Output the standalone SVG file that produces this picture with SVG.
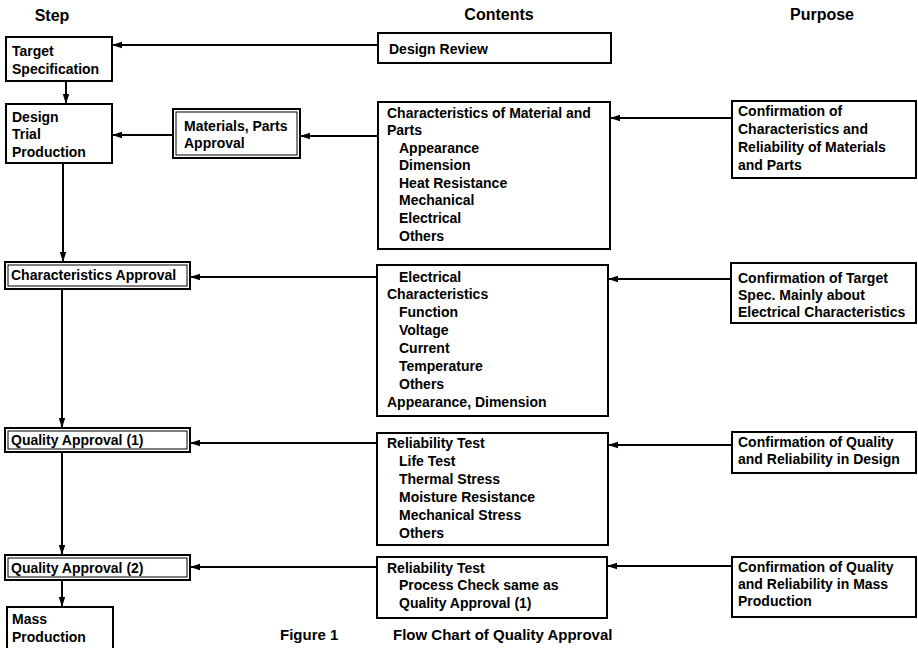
<svg xmlns="http://www.w3.org/2000/svg" width="918" height="648" viewBox="0 0 918 648">
<style>
text{font-family:"Liberation Sans",Arial,sans-serif;font-weight:bold;font-size:14px;fill:#000}
.h{font-size:16px}
.cap{font-size:15px}
.box{fill:#fff;stroke:#000;stroke-width:2}
.in{fill:none;stroke:#000;stroke-width:1}
.c{fill:none;stroke:#000;stroke-width:2}
</style>
<defs>
<marker id="ah" markerWidth="10" markerHeight="8" refX="9" refY="4" orient="auto" markerUnits="userSpaceOnUse">
<path d="M0,0.8 L10,4 L0,7.2 Z" fill="#000"/>
</marker>
</defs>
<rect width="918" height="648" fill="#fff"/>
<g id="headers">
<text class="h" x="52" y="21" text-anchor="middle">Step</text>
<text class="h" x="499" y="20" text-anchor="middle">Contents</text>
<text class="h" x="822" y="20" text-anchor="middle">Purpose</text>
</g>
<g id="connectors">
<line class="c" x1="378" y1="45" x2="113" y2="45" marker-end="url(#ah)"/>
<line class="c" x1="66" y1="81" x2="66" y2="103" marker-end="url(#ah)"/>
<line class="c" x1="173" y1="135" x2="113" y2="135" marker-end="url(#ah)"/>
<line class="c" x1="378" y1="136" x2="301" y2="136" marker-end="url(#ah)"/>
<line class="c" x1="732" y1="118" x2="611" y2="118" marker-end="url(#ah)"/>
<line class="c" x1="63" y1="163" x2="63" y2="261" marker-end="url(#ah)"/>
<line class="c" x1="377" y1="277" x2="191" y2="277" marker-end="url(#ah)"/>
<line class="c" x1="731" y1="279" x2="609" y2="279" marker-end="url(#ah)"/>
<line class="c" x1="62" y1="289" x2="62" y2="427" marker-end="url(#ah)"/>
<line class="c" x1="377" y1="443" x2="191" y2="443" marker-end="url(#ah)"/>
<line class="c" x1="732" y1="445" x2="609" y2="445" marker-end="url(#ah)"/>
<line class="c" x1="62" y1="452" x2="62" y2="554" marker-end="url(#ah)"/>
<line class="c" x1="377" y1="567" x2="191" y2="567" marker-end="url(#ah)"/>
<line class="c" x1="732" y1="566" x2="608" y2="566" marker-end="url(#ah)"/>
<line class="c" x1="62" y1="580" x2="62" y2="606" marker-end="url(#ah)"/>
</g>
<g id="target-spec">
<rect class="box" x="6" y="37" width="106" height="44"/>
<text x="12" y="56">Target</text>
<text x="12" y="74">Specification</text>
</g>
<g id="design-trial">
<rect class="box" x="6" y="104" width="106" height="59"/>
<text x="12" y="122">Design</text>
<text x="12" y="139">Trial</text>
<text x="12" y="157">Production</text>
</g>
<g id="materials-approval">
<rect class="box" x="173" y="109" width="127" height="49"/>
<rect class="in" x="176" y="112" width="121" height="43"/>
<text x="184" y="131">Materials, Parts</text>
<text x="184" y="148">Approval</text>
</g>
<g id="char-approval">
<rect class="box" x="5" y="262" width="185" height="27"/>
<rect class="in" x="8" y="265" width="179" height="21"/>
<text x="11" y="280">Characteristics Approval</text>
</g>
<g id="quality-approval-1">
<rect class="box" x="5" y="428" width="185" height="24"/>
<rect class="in" x="8" y="431" width="179" height="18"/>
<text x="11" y="445">Quality Approval (1)</text>
</g>
<g id="quality-approval-2">
<rect class="box" x="5" y="555" width="185" height="25"/>
<rect class="in" x="8" y="558" width="179" height="19"/>
<text x="11" y="573">Quality Approval (2)</text>
</g>
<g id="mass-production">
<rect class="box" x="7" y="607" width="106" height="46"/>
<text x="12" y="624">Mass</text>
<text x="12" y="642">Production</text>
</g>
<g id="design-review">
<rect class="box" x="378" y="33" width="233" height="30"/>
<text x="389" y="54">Design Review</text>
</g>
<g id="char-material">
<rect class="box" x="378" y="102" width="232" height="147"/>
<text x="387" y="118">Characteristics of Material and</text>
<text x="387" y="135">Parts</text>
<text x="399" y="153">Appearance</text>
<text x="399" y="170">Dimension</text>
<text x="399" y="188">Heat Resistance</text>
<text x="399" y="205">Mechanical</text>
<text x="399" y="223">Electrical</text>
<text x="399" y="241">Others</text>
</g>
<g id="electrical">
<rect class="box" x="377" y="265" width="231" height="151"/>
<text x="399" y="282">Electrical</text>
<text x="387" y="299">Characteristics</text>
<text x="399" y="317">Function</text>
<text x="399" y="335">Voltage</text>
<text x="399" y="353">Current</text>
<text x="399" y="371">Temperature</text>
<text x="399" y="389">Others</text>
<text x="387" y="407">Appearance, Dimension</text>
</g>
<g id="reliability-1">
<rect class="box" x="377" y="433" width="231" height="112"/>
<text x="387" y="448">Reliability Test</text>
<text x="399" y="466">Life Test</text>
<text x="399" y="484">Thermal Stress</text>
<text x="399" y="502">Moisture Resistance</text>
<text x="399" y="520">Mechanical Stress</text>
<text x="399" y="538">Others</text>
</g>
<g id="reliability-2">
<rect class="box" x="377" y="557" width="230" height="61"/>
<text x="387" y="573">Reliability Test</text>
<text x="399" y="590">Process Check same as</text>
<text x="399" y="608">Quality Approval (1)</text>
</g>
<g id="purpose-1">
<rect class="box" x="732" y="101" width="184" height="77"/>
<text x="738" y="116">Confirmation of</text>
<text x="738" y="134">Characteristics and</text>
<text x="738" y="152">Reliability of Materials</text>
<text x="738" y="170">and Parts</text>
</g>
<g id="purpose-2">
<rect class="box" x="731" y="263" width="185" height="60"/>
<text x="738" y="283">Confirmation of Target</text>
<text x="738" y="300">Spec. Mainly about</text>
<text x="738" y="317">Electrical Characteristics</text>
</g>
<g id="purpose-3">
<rect class="box" x="732" y="432" width="184" height="41"/>
<text x="738" y="447">Confirmation of Quality</text>
<text x="738" y="464">and Reliability in Design</text>
</g>
<g id="purpose-4">
<rect class="box" x="732" y="557" width="184" height="60"/>
<text x="738" y="572">Confirmation of Quality</text>
<text x="738" y="589">and Reliability in Mass</text>
<text x="738" y="606">Production</text>
</g>
<g id="caption">
<text class="cap" x="280" y="640">Figure 1</text>
<text class="cap" x="393" y="640">Flow Chart of Quality Approval</text>
</g>
</svg>
